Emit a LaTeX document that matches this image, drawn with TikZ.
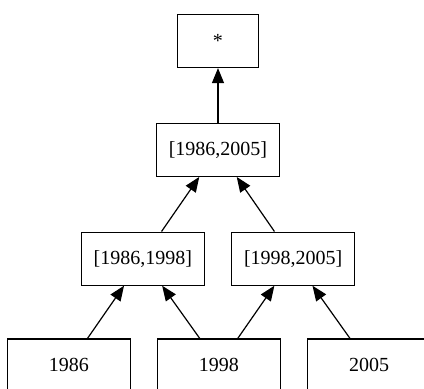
\documentclass[tikz,border=0pt]{standalone}
\usepackage{fontspec}
\setmainfont{Liberation Serif}
\usetikzlibrary{positioning,arrows.meta}

\begin{document}
\begin{tikzpicture}[
    node distance=27.3pt,
    box/.style={rectangle, draw, line width=0.6pt, minimum width=61.5pt, minimum height=26.5pt, inner sep=0pt, font=\fontsize{10}{12}\selectfont},
    starbox/.style={box, minimum width=40.5pt},
    link/.style={-{Triangle[length=7.5pt, width=6pt]}, line width=0.6pt}
]
\useasboundingbox (-109pt,20.5pt) rectangle (103pt,-173.5pt);

% Top of the lattice
\node[starbox] (all-star) at (0,0) {*};
\node[box, below=of all-star] (range-all) {[1986,2005]};

% Middle ranges
\node[box, below left=27.3pt and -24.5pt of range-all] (range-left) {[1986,1998]};
\node[box, below right=27.3pt and -24.5pt of range-all] (range-right) {[1998,2005]};

% Years (bottom row, cut by the page edge)
\node[box, below right=26.3pt and -24pt of range-left] (year-1998) {1998};
\node[box, left=13pt of year-1998] (year-1986) {1986};
\node[box, right=13pt of year-1998] (year-2005) {2005};

% Links
\draw[link] (range-all) -- (all-star);
\draw[link] (range-left) -- (range-all);
\draw[link] (range-right) -- (range-all);
\draw[link] (year-1986) -- (range-left);
\draw[link] (year-1998) -- (range-left);
\draw[link] (year-1998) -- (range-right);
\draw[link] (year-2005) -- (range-right);

\end{tikzpicture}
\end{document}
